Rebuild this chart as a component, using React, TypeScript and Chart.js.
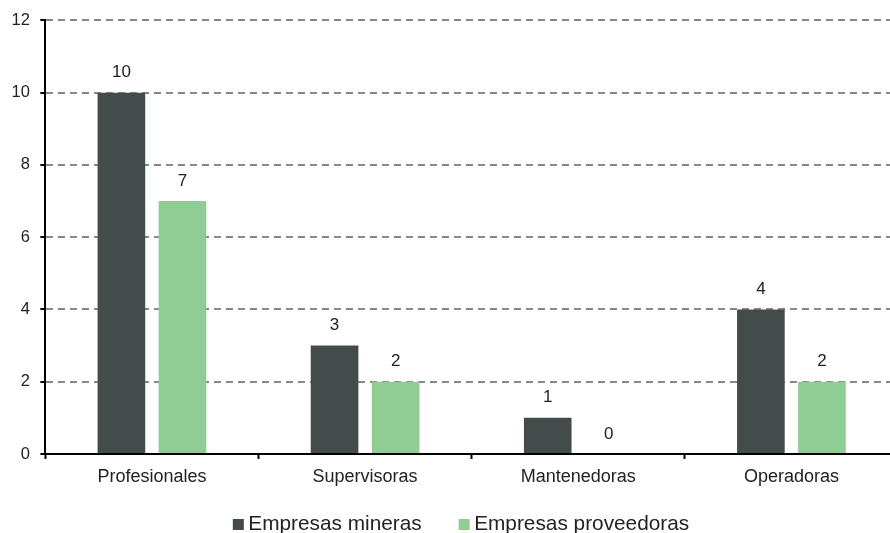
import React, { useEffect, useRef } from "react";
import { Chart, registerables } from "chart.js";

Chart.register(...registerables);

const categories = ["Profesionales", "Supervisoras", "Mantenedoras", "Operadoras"];
const seriesNames = ["Empresas mineras", "Empresas proveedoras"];
const mineras = [10, 3, 1, 4];
const proveedoras = [7, 2, 0, 2];
const yTicks = [0, 2, 4, 6, 8, 10, 12];

const FONT = "'Liberation Sans', Arial, Helvetica, sans-serif";
const TEXT = "#222222";
const COLORS = ["#434b4b", "#90cd95"];

const valueLabels = {
  id: "valueLabels",
  afterDatasetsDraw(chart: any) {
    const ctx = chart.ctx;
    ctx.save();
    ctx.font = `17px ${FONT}`;
    ctx.fillStyle = TEXT;
    ctx.textAlign = "center";
    ctx.textBaseline = "alphabetic";
    chart.data.datasets.forEach((ds: any, i: number) => {
      const meta = chart.getDatasetMeta(i);
      meta.data.forEach((el: any, j: number) => {
        ctx.fillText(String(ds.data[j]), el.x, el.y - 15.5);
      });
    });
    ctx.restore();
  },
};

const bottomLegend = {
  id: "bottomLegend",
  afterDraw(chart: any) {
    const ctx = chart.ctx;
    ctx.save();
    ctx.font = `20.8px ${FONT}`;
    const box = 11;
    const boxGap = 4.5;
    const itemGap = 37;
    const items = chart.data.datasets.map((ds: any) => ({
      label: ds.label,
      color: ds.backgroundColor,
      w: ctx.measureText(ds.label).width,
    }));
    let total = 0;
    items.forEach((it: any, i: number) => {
      total += box + boxGap + it.w + (i < items.length - 1 ? itemGap : 0);
    });
    let x = 461 - total / 2;
    const baseline = 530;
    ctx.textBaseline = "alphabetic";
    ctx.textAlign = "left";
    items.forEach((it: any) => {
      ctx.fillStyle = it.color;
      ctx.fillRect(x, 519, box, box);
      ctx.fillStyle = TEXT;
      ctx.fillText(it.label, x + box + boxGap, baseline);
      x += box + boxGap + it.w + itemGap;
    });
    ctx.restore();
  },
};

export default function App() {
  const ref = useRef<HTMLCanvasElement | null>(null);

  useEffect(() => {
    document.body.style.margin = "0";
    const canvas = ref.current;
    if (!canvas) return;
    const chart = new Chart(canvas, {
      type: "bar",
      data: {
        labels: categories,
        datasets: [
          {
            label: seriesNames[0],
            data: mineras,
            backgroundColor: COLORS[0],
            categoryPercentage: 0.573,
            barPercentage: 0.78,
          },
          {
            label: seriesNames[1],
            data: proveedoras,
            backgroundColor: COLORS[1],
            categoryPercentage: 0.573,
            barPercentage: 0.78,
          },
        ],
      },
      options: {
        responsive: false,
        animation: false,
        devicePixelRatio: 1,
        layout: { padding: { left: 1, right: 2, top: 20, bottom: 38.4 } },
        plugins: {
          legend: { display: false },
          tooltip: { enabled: false },
        },
        scales: {
          x: {
            grid: {
              display: true,
              drawOnChartArea: false,
              drawTicks: true,
              tickLength: 5,
              tickColor: "#000000",
              tickWidth: 2,
              offset: true,
            },
            border: { display: true, color: "#000000", width: 2 },
            ticks: {
              color: TEXT,
              font: { family: FONT, size: 18 },
              padding: 7,
              maxRotation: 0,
            },
          },
          y: {
            min: 0,
            max: 12,
            afterBuildTicks(scale: any) {
              scale.ticks = yTicks.map((v) => ({ value: v }));
            },
            grid: {
              color: "#888888",
              lineWidth: 2,
              drawTicks: true,
              tickLength: 5,
              tickColor: "#000000",
              tickWidth: 2,
            },
            border: { display: true, color: "#000000", width: 2, dash: [7, 5] },
            ticks: {
              color: TEXT,
              font: { family: FONT, size: 16.5 },
              padding: 10.5,
            },
          },
        },
      },
      plugins: [valueLabels, bottomLegend],
    });
    return () => chart.destroy();
  }, []);

  return (
    <div style={{ width: 890, height: 533, overflow: "hidden", position: "relative", background: "#ffffff" }}>
      <canvas ref={ref} width={900} height={533} style={{ display: "block" }} />
    </div>
  );
}
